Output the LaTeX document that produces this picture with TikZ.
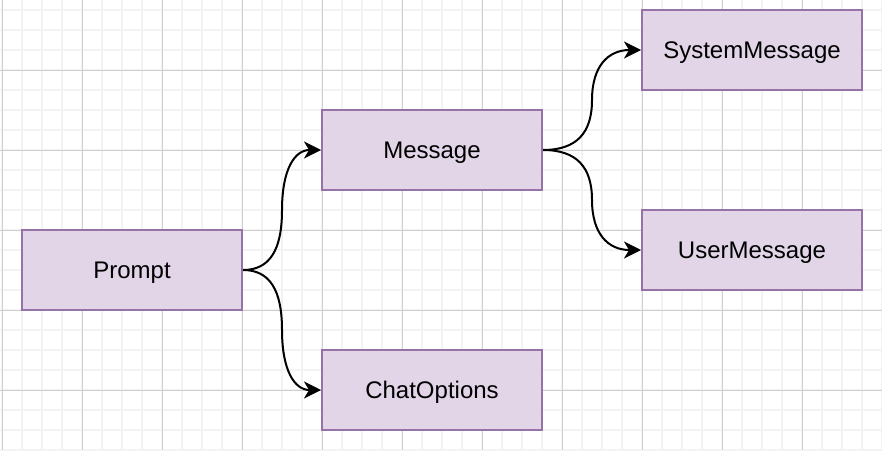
\documentclass[tikz,border=0pt]{standalone}
\usepackage{fontspec}
\setmainfont{Liberation Sans}
\usetikzlibrary{arrows.meta}
\definecolor{boxfill}{HTML}{E1D5E7}
\definecolor{boxdraw}{HTML}{9673A6}
\definecolor{gridminor}{HTML}{F3F3F3}
\definecolor{gridmajor}{HTML}{CFCFCF}
\tikzset{
  box/.style={draw=boxdraw, fill=boxfill, line width=2pt, minimum width=220pt, minimum height=80pt, inner sep=0pt, font=\fontsize{24}{28}\selectfont, text=black, text height=17.2pt, text depth=0pt},
  arr/.style={draw=black, line width=2pt, -{Stealth[length=17pt, width=17pt, inset=5pt]}}
}
\begin{document}
\begin{tikzpicture}[x=1pt, y=-1pt]
\useasboundingbox (0,0) rectangle (882,450);
\fill[white] (0,0) rectangle (882,450);
% minor grid
\foreach \x in {2,22,...,882} \draw[gridminor, line width=1.6pt] (\x,0) -- (\x,450);
\foreach \y in {10,30,...,450} \draw[gridminor, line width=1.6pt] (0,\y) -- (882,\y);
% major grid
\foreach \x in {2,82,...,882} \draw[gridmajor, line width=0.8pt] (\x,0) -- (\x,450);
\foreach \y in {70,150,...,450} \draw[gridmajor, line width=0.8pt] (0,\y) -- (882,\y);
% nodes
\node[box] (P) at (132,270) {Prompt};
\node[box] (M) at (432,150) {Message};
\node[box] (C) at (432,390) {ChatOptions};
\node[box] (S) at (752,50) {SystemMessage};
\node[box] (U) at (752,250) {UserMessage};
% mid coordinates
\coordinate (pm) at (282,210);
\coordinate (pc) at (282,330);
\coordinate (ms) at (592,100);
\coordinate (mu) at (592,200);
% connectors
\draw[arr] (P.east) .. controls +(26.7,0) and +(0,40) .. (pm) .. controls +(0,-40) and +(-26.7,0) .. (M.west);
\draw[arr] (P.east) .. controls +(26.7,0) and +(0,-40) .. (pc) .. controls +(0,40) and +(-26.7,0) .. (C.west);
\draw[arr] (M.east) .. controls +(33.3,0) and +(0,33.3) .. (ms) .. controls +(0,-33.3) and +(-33.3,0) .. (S.west);
\draw[arr] (M.east) .. controls +(33.3,0) and +(0,-33.3) .. (mu) .. controls +(0,33.3) and +(-33.3,0) .. (U.west);
\end{tikzpicture}
\end{document}
